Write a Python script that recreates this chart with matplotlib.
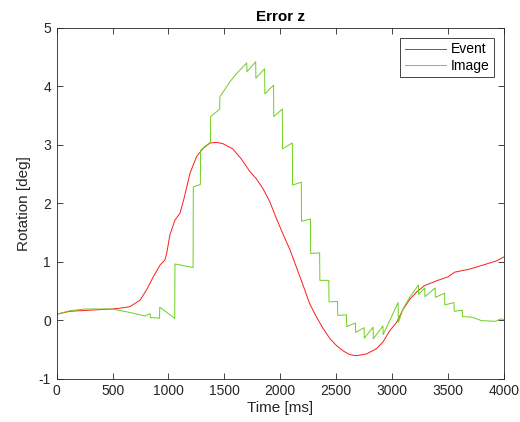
import matplotlib
matplotlib.use("Agg")
from matplotlib import pyplot as plt

# Event curve (red)
event_t = [0, 116, 300, 500, 590, 655, 745, 805, 864, 924, 968, 984, 1013,
           1058, 1103, 1139, 1192, 1252, 1311, 1371, 1431, 1485, 1575, 1650,
           1725, 1785, 1845, 1905, 1965, 2025, 2085, 2145, 2205, 2265, 2325,
           2385, 2445, 2505, 2565, 2620, 2680, 2770, 2860, 2920, 2980, 3040,
           3100, 3160, 3220, 3290, 3395, 3500, 3560, 3690, 3810, 3930, 4000]
event_y = [0.10, 0.15, 0.17, 0.19, 0.21, 0.23, 0.34, 0.52, 0.74, 0.94, 1.03,
           1.14, 1.46, 1.71, 1.83, 2.08, 2.51, 2.80, 2.94, 3.03, 3.04, 3.02,
           2.93, 2.76, 2.55, 2.42, 2.25, 2.03, 1.74, 1.47, 1.21, 0.90, 0.59,
           0.27, 0.05, -0.15, -0.32, -0.44, -0.53, -0.59, -0.61, -0.58, -0.49,
           -0.37, -0.18, -0.04, 0.19, 0.36, 0.48, 0.59, 0.67, 0.74, 0.82, 0.87,
           0.94, 1.01, 1.08]

# Image curve (green), sawtooth with jumps at each new frame
image_t = [0, 120, 250, 500, 655, 790, 836, 838, 880, 920, 922, 1056, 1058,
           1220, 1222, 1285, 1287, 1330, 1375, 1377, 1458, 1460, 1550, 1610,
           1670, 1700, 1702, 1780, 1782, 1860, 1862, 1940, 1942, 2018, 2020,
           2108, 2110, 2188, 2190, 2270, 2272, 2352, 2354, 2434, 2436, 2512,
           2514, 2592, 2594, 2672, 2674, 2750, 2752, 2830, 2832, 2918, 2920,
           3054, 3056, 3100, 3160, 3236, 3238, 3292, 3294, 3385, 3387, 3470,
           3472, 3554, 3556, 3628, 3630, 3717, 3800, 3926, 3970, 4000]
image_y = [0.10, 0.16, 0.19, 0.19, 0.13, 0.07, 0.11, 0.04, 0.04, 0.03, 0.22,
           0.03, 0.96, 0.90, 2.28, 2.32, 2.90, 2.98, 3.04, 3.48, 3.61, 3.82,
           4.08, 4.22, 4.34, 4.40, 4.25, 4.42, 4.14, 4.30, 3.87, 4.02, 3.48,
           3.61, 2.93, 3.03, 2.31, 2.36, 1.69, 1.73, 1.14, 1.15, 0.68, 0.68,
           0.31, 0.32, 0.08, 0.09, -0.11, -0.05, -0.21, -0.13, -0.31, -0.12,
           -0.32, -0.10, -0.25, 0.30, -0.04, 0.20, 0.40, 0.60, 0.44, 0.55,
           0.40, 0.55, 0.39, 0.46, 0.26, 0.30, 0.15, 0.17, 0.06, 0.05, -0.01,
           -0.02, 0.02, 0.01]

plt.rcParams["font.family"] = ["Liberation Sans", "DejaVu Sans"]
plt.rcParams["axes.unicode_minus"] = False
axis_col = "#262626"

fig = plt.figure(figsize=(5.2, 4.22), dpi=100)
ax = fig.add_axes([0.109, 0.103, 0.860, 0.831])

ax.plot(event_t, event_y, color="#ff1a1a", linewidth=0.7, label="Event")
ax.plot(image_t, image_y, color="#6ccf1c", linewidth=0.7, label="Image")

ax.set_xlim(0, 4000)
ax.set_ylim(-1, 5)
ax.set_xticks(range(0, 4001, 500))
ax.set_yticks(range(-1, 6))
ax.tick_params(direction="in", top=True, right=True, length=4,
               width=0.6, colors=axis_col, labelsize=10, pad=4)
for s in ax.spines.values():
    s.set_color(axis_col)
    s.set_linewidth(0.6)

ax.set_title("Error z", fontsize=11, fontweight="bold", pad=5)
ax.set_xlabel("Time [ms]", fontsize=11, color=axis_col, labelpad=2)
ax.set_ylabel("Rotation [deg]", fontsize=11, color=axis_col, labelpad=6)

leg = ax.legend(loc="upper right", fontsize=10, handlelength=3.0,
                fancybox=False, framealpha=1, edgecolor=axis_col,
                borderaxespad=0.7, borderpad=0.35, labelspacing=0.15,
                handletextpad=0.3)
leg.get_frame().set_linewidth(0.6)

fig.savefig("out.png", dpi=100)
